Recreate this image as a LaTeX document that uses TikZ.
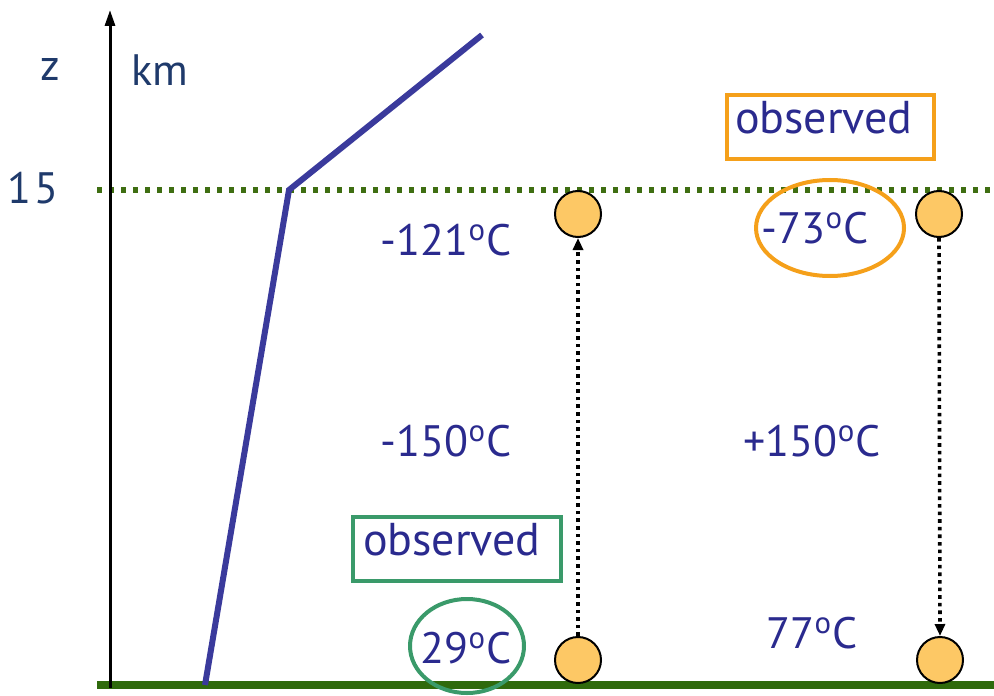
\documentclass[tikz,border=0pt]{standalone}
\usepackage{fontspec}
\setmainfont{PT Sans}
\usetikzlibrary{arrows.meta}
\definecolor{txtblue}{HTML}{2A2A8E}
\definecolor{axblue}{HTML}{1F3A6B}
\definecolor{profblue}{HTML}{3A3A9C}
\definecolor{gnd}{HTML}{2F6A0C}
\definecolor{dotgreen}{HTML}{3F6E12}
\definecolor{orangeC}{HTML}{F5A01A}
\definecolor{greenC}{HTML}{3A9A6A}
\definecolor{ballfill}{HTML}{FDC865}
\tikzset{
  temp/.style={font=\fontsize{22}{26}\selectfont, text=txtblue, inner sep=0pt},
  axlab/.style={font=\fontsize{22}{26}\selectfont, text=axblue, inner sep=0pt},
  ball/.style={circle, draw=black, line width=1pt, fill=ballfill, minimum size=23pt, inner sep=0pt},
  obsbox/.style={draw, line width=2pt, font=\fontsize{23}{27}\selectfont, text=txtblue, inner ysep=0pt, text height=12pt, text depth=6pt, minimum height=32pt},
  dotarrow/.style={draw=black, line width=1.8pt, dotted, -{Triangle[length=6pt,width=5pt]}}
}
\begin{document}
\begin{tikzpicture}[x=0.5pt,y=-0.5pt]
\useasboundingbox (0,0) rectangle (994,695);
% ground and tropopause
\coordinate (gL) at (97,685);
\coordinate (gR) at (994,685);
\draw[gnd, line width=4pt] (gL) -- (gR);
\coordinate (tL) at (97,190);
\coordinate (tR) at (994,190);
\draw[dotgreen, line width=2.6pt, dash pattern=on 2.6pt off 3.4pt] (tL) -- (tR);
% axis
\coordinate (a0) at (110,688);
\coordinate (a1) at (110,10);
\draw[black, line width=1.5pt, -{Triangle[length=8pt,width=5pt]}] (a0) -- (a1);
\node[axlab] (z) at (50,70) {z};
\node[axlab] (km) at (160,70) {km};
\node[axlab] (h15) at (33,188) {1\kern2pt5};
% profile
\coordinate (p0) at (205,685);
\coordinate (p1) at (289,190);
\coordinate (p2) at (482,35);
\draw[profblue, line width=3pt] (p0) -- (p1) -- (p2);
% balls
\node[ball] (b1) at (578,214) {};
\node[ball] (b2) at (939,214) {};
\node[ball, minimum width=20pt] (b3) at (578,660) {};
\node[ball, minimum width=20pt] (b4) at (940,660) {};
\draw[dotarrow] (b3.north) -- (b1.south);
\draw[dotarrow] (b2.south) -- (b4.north);
% temperatures
\node[temp] (t121) at (446,240) {-121\textsuperscript{o}C};
\node[temp] (t73) at (815,228) {-73\textsuperscript{o}C};
\node[temp] (t150m) at (446,441) {-150\textsuperscript{o}C};
\node[temp] (t150p) at (812,441) {+150\textsuperscript{o}C};
\node[temp] (t29) at (466,648) {29\textsuperscript{o}C};
\node[temp] (t77) at (812,633) {77\textsuperscript{o}C};
% observed boxes and ellipses
\node[obsbox, draw=orangeC, inner xsep=4pt] (obs1) at (830.5,127.5) {\makebox[95.5pt][l]{observed}};
\draw[orangeC, line width=2pt] (830,228) ellipse [x radius=74, y radius=48];
\node[obsbox, draw=greenC, inner xsep=5pt] (obs2) at (457,549) {\makebox[94pt][l]{observed}};
\draw[greenC, line width=2pt] (467,646) ellipse [x radius=57, y radius=47];
\end{tikzpicture}
\end{document}
